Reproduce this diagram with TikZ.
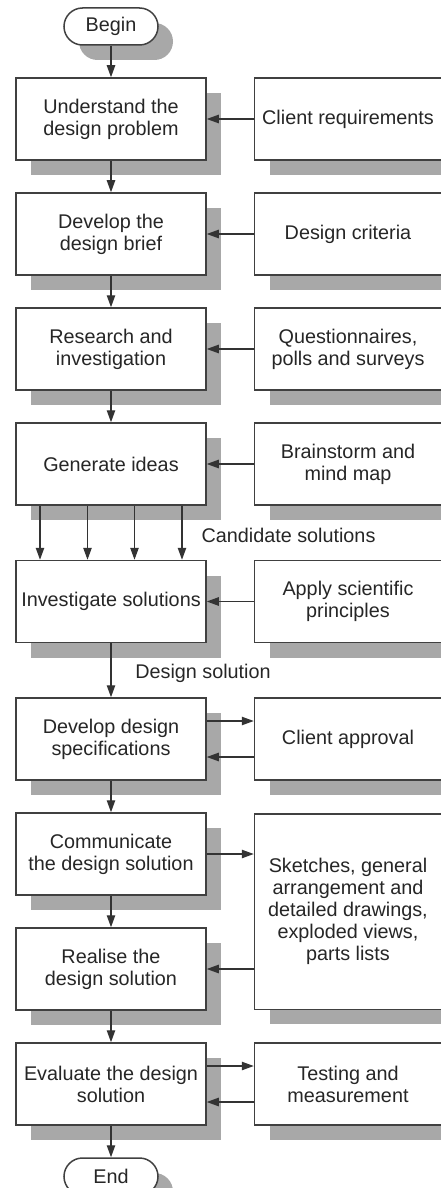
\documentclass[tikz,border=0pt]{standalone}
\usepackage{fontspec}
\setmainfont{Liberation Sans}
\usetikzlibrary{positioning,calc,arrows.meta,shadows}

\begin{document}
\begin{tikzpicture}[->, >={Triangle[length=6pt,width=4.2pt]}, node distance=15.75pt and 23.5pt,
  box/.style={rectangle, draw=black!75, line width=0.75pt, fill=white, text=black!85, align=center, inner sep=2pt, font=\fontsize{9.9}{11}\selectfont, drop shadow={shadow xshift=7.5pt, shadow yshift=-7.5pt, opacity=1, fill=black!34}},
  main/.style={box, minimum width=95pt, minimum height=41pt},
  side/.style={box, minimum width=93.5pt, minimum height=41pt},
  term/.style={box, rounded corners=9.25pt, minimum width=47pt, minimum height=18.5pt},
  lbl/.style={text=black!85, font=\fontsize{9.9}{11}\selectfont},
  every edge/.append style={draw=black!80, line width=0.65pt}]

\useasboundingbox (-55.5pt,13.25pt) rectangle (164.5pt,-580.75pt);

\node[term] (begin) at (0,0) {Begin};
\node[main] (under) [below=of begin] {Understand the\\design problem};
\node[side] (client) [right=of under] {Client requirements};
\node[main] (brief) [below=of under] {Develop the\\design brief};
\node[side] (crit) [right=of brief] {Design criteria};
\node[main] (research) [below=of brief] {Research and\\investigation};
\node[side] (quest) [right=of research] {Questionnaires,\\polls and surveys};
\node[main] (ideas) [below=of research] {Generate ideas};
\node[side] (brain) [right=of ideas] {Brainstorm and\\mind map};
\node[main] (invest) [below=27pt of ideas] {Investigate solutions};
\node[side] (sci) [right=of invest] {Apply scientific\\principles};
\node[main] (spec) [below=27pt of invest] {Develop design\\specifications};
\node[side] (appr) [right=of spec] {Client approval};
\node[main] (comm) [below=of spec] {Communicate\\the design solution};
\node[main] (real) [below=of comm] {Realise the\\design solution};
\coordinate (mid) at ($(comm.east)!.5!(real.east)$);
\node[side, minimum height=97.75pt] (sketch) [right=of mid] {Sketches, general\\arrangement and\\detailed drawings,\\exploded views,\\parts lists};
\node[main] (eval) [below=of real] {Evaluate the design\\solution};
\node[side] (test) [right=of eval] {Testing and\\measurement};
\node[term] (stop) [below=of eval] {End};

% labels on the flow
\coordinate (gapA) at ($(ideas.south)!.5!(invest.north)$);
\node[lbl] (cand) at ([xshift=88.75pt, yshift=-1.5pt]gapA) {Candidate solutions};
\coordinate (gapB) at ($(invest.south)!.5!(spec.north)$);
\node[lbl] (dsol) at ([xshift=46pt, yshift=-1.5pt]gapB) {Design solution};

\path
    (begin) edge (under)
    (under) edge (brief)
    (brief) edge (research)
    (research) edge (ideas)
    (invest) edge (spec)
    (spec) edge (comm)
    (comm) edge (real)
    (real) edge (eval)
    (eval) edge (stop)
    (client) edge (under)
    (crit) edge (brief)
    (quest) edge (research)
    (brain) edge (ideas)
    (sci) edge (invest)
    ([yshift=9pt]spec.east) edge ([yshift=9pt]appr.west)
    ([yshift=-9pt]appr.west) edge ([yshift=-9pt]spec.east)
    (comm) edge (sketch.west |- comm)
    (sketch.west |- real) edge (real)
    ([yshift=9pt]eval.east) edge ([yshift=9pt]test.west)
    ([yshift=-9pt]test.west) edge ([yshift=-9pt]eval.east);

\foreach \dx in {-35.5,-11.75,11.75,35.5}
    \path ([xshift=\dx pt]ideas.south) edge ([xshift=\dx pt]invest.north);
\end{tikzpicture}
\end{document}
